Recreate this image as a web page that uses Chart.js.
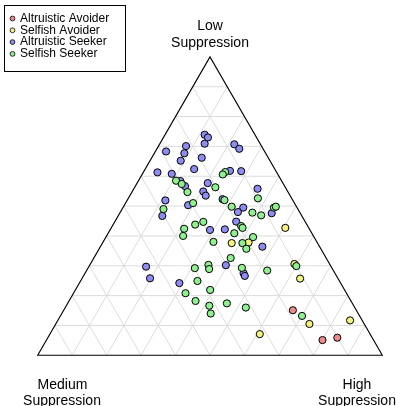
<!DOCTYPE html>
<html>
<head>
<meta charset="utf-8">
<script src="https://cdn.jsdelivr.net/npm/chart.js@4/dist/chart.umd.min.js"></script>
<style>
  html, body { margin: 0; padding: 0; background: #ffffff; }
  #wrap { width: 396px; height: 406px; }
</style>
</head>
<body>
<div id="wrap"><canvas id="tern" width="396" height="406"></canvas></div>
<script>
// Each entry is one respondent: [low, medium, high] suppression shares in percent.
const altruisticAvoider = [
  [15.1, 18.4, 66.5], [5.1, 14.8, 80.1], [5.9, 10.1, 84.0]
];
const selfishAvoider = [
  [42.7, 6.8, 50.5], [37.6, 24.9, 37.5], [37.8, 19.9, 42.3], [30.6, 10.2, 59.2],
  [25.7, 11.0, 63.3], [10.5, 15.9, 73.6], [11.7, 3.5, 84.8], [7.1, 32.0, 60.9]
];
const altruisticSeeker = [
  [73.9, 14.6, 11.5], [73.0, 14.1, 12.9], [70.9, 16.1, 13.0], [70.1, 21.9, 8.0],
  [68.3, 28.6, 3.1], [67.7, 23.6, 8.7], [65.2, 25.9, 8.9], [66.2, 19.3, 14.5],
  [70.7, 7.6, 21.7], [69.2, 6.9, 23.9], [61.3, 34.6, 4.1], [60.8, 30.7, 8.5],
  [62.4, 23.4, 14.2], [61.8, 13.3, 24.9], [61.7, 10.1, 28.2], [58.4, 29.4, 12.2],
  [56.7, 28.9, 14.4], [57.7, 21.8, 20.5], [54.9, 24.5, 20.6], [53.5, 24.5, 22.0],
  [55.8, 8.3, 35.9], [52.3, 20.2, 27.5], [51.9, 37.0, 11.1], [46.7, 40.5, 12.8],
  [50.3, 31.2, 18.5], [49.5, 15.6, 34.9], [48.0, 17.9, 34.1], [47.6, 8.3, 44.1],
  [44.8, 20.0, 35.2], [42.0, 29.0, 29.0], [42.2, 24.6, 33.2], [36.4, 16.6, 47.0],
  [29.7, 53.7, 16.6], [25.8, 54.5, 19.7], [24.2, 46.8, 29.0], [30.2, 30.3, 39.5],
  [27.5, 26.5, 46.0], [26.6, 26.6, 46.8]
];
const selfishSeeker = [
  [58.5, 30.6, 10.9], [57.4, 29.5, 13.1], [54.7, 29.2, 16.1], [56.3, 20.3, 23.4],
  [61.4, 14.9, 23.7], [60.6, 16.0, 23.4], [52.6, 9.8, 37.6], [52.0, 19.8, 28.2],
  [49.0, 39.0, 12.0], [51.0, 29.4, 19.6], [49.8, 18.8, 31.4], [47.8, 13.8, 38.4],
  [46.9, 11.7, 41.4], [49.5, 6.7, 43.8], [49.8, 6.0, 44.2], [43.3, 19.3, 37.4],
  [42.7, 19.2, 38.1], [42.4, 36.3, 21.3], [40.0, 37.8, 22.2], [43.8, 32.4, 23.8],
  [44.7, 29.6, 25.7], [40.9, 22.5, 36.6], [39.6, 17.7, 42.7], [38.0, 30.0, 32.0],
  [37.6, 21.8, 40.6], [35.7, 21.6, 42.7], [32.6, 27.7, 39.7], [29.2, 39.8, 31.0],
  [30.3, 35.3, 34.4], [28.9, 35.8, 35.3], [29.3, 26.1, 44.6], [28.4, 19.2, 52.4],
  [24.9, 41.2, 33.9], [21.9, 39.0, 39.1], [20.8, 46.7, 32.5], [18.2, 45.1, 36.7],
  [16.6, 41.9, 41.5], [14.0, 42.8, 43.2], [17.4, 36.4, 46.2], [16.0, 31.6, 52.4],
  [29.9, 10.0, 60.1], [13.2, 16.7, 70.1]
];

const groupNames = ['Altruistic Avoider', 'Selfish Avoider', 'Altruistic Seeker', 'Selfish Seeker'];
const groupColors = ['#f08a8a', '#f2f27e', '#8c8cf2', '#8ef08e'];
const cornerLabels = [['Low', 'Suppression'], ['Medium', 'Suppression'], ['High', 'Suppression']];
const gridSteps = 10;

// Ternary -> cartesian: Medium at (0,0), High at (1,0), Low at the apex.
const H3 = Math.sqrt(3) / 2;
function toXY(low, med, high) {
  const s = low + med + high;
  const l = low / s, h = high / s;
  return { x: h + l / 2, y: l * H3 };
}
const toPoints = arr => arr.map(r => toXY(r[0], r[1], r[2]));

// Canvas geometry: the unit triangle spans 344.6 px, base at y=355.3, left corner at x=37.7
const unitPx = 344.6;
const xMin = -37.7 / unitPx, xMax = (396 - 37.7) / unitPx;
const yMin = -(406 - 355.3) / unitPx, yMax = 355.3 / unitPx;

const ternaryFrame = {
  id: 'ternaryFrame',
  beforeDatasetsDraw(chart) {
    const { ctx, scales: { x, y } } = chart;
    const P = (l, m, h) => { const p = toXY(l, m, h); return [x.getPixelForValue(p.x), y.getPixelForValue(p.y)]; };
    ctx.save();
    ctx.strokeStyle = '#dcdcdc';
    ctx.lineWidth = 1;
    for (let i = 1; i < gridSteps; i++) {
      const f = i / gridSteps;
      const segs = [
        [P(f, 1 - f, 0), P(f, 0, 1 - f)],
        [P(0, 1 - f, f), P(1 - f, 0, f)],
        [P(0, f, 1 - f), P(1 - f, f, 0)]
      ];
      segs.forEach(([a, b]) => { ctx.beginPath(); ctx.moveTo(a[0], a[1]); ctx.lineTo(b[0], b[1]); ctx.stroke(); });
    }
    ctx.strokeStyle = '#000000';
    ctx.lineWidth = 1.1;
    const A = P(1, 0, 0), B = P(0, 1, 0), C = P(0, 0, 1);
    ctx.beginPath();
    ctx.moveTo(A[0], A[1]); ctx.lineTo(B[0], B[1]); ctx.lineTo(C[0], C[1]); ctx.closePath();
    ctx.stroke();
    ctx.restore();
  },
  afterDraw(chart) {
    const { ctx } = chart;
    ctx.save();
    ctx.fillStyle = '#000000';
    ctx.textAlign = 'center';
    ctx.textBaseline = 'middle';
    ctx.font = '14px "Liberation Sans", Arial, sans-serif';
    ctx.fillText(cornerLabels[0][0], 210, 26);
    ctx.fillText(cornerLabels[0][1], 210, 43);
    ctx.fillText(cornerLabels[1][0], 62.5, 385);
    ctx.fillText(cornerLabels[1][1], 62, 401.5);
    ctx.fillText(cornerLabels[2][0], 357, 385);
    ctx.fillText(cornerLabels[2][1], 357, 401.5);

    // legend box
    ctx.strokeStyle = '#000000';
    ctx.lineWidth = 1;
    ctx.strokeRect(4.5, 5.5, 121, 66);
    ctx.font = '12px "Liberation Sans", Arial, sans-serif';
    ctx.textAlign = 'left';
    groupNames.forEach((name, i) => {
      const yy = 18.5 + i * 11.8;
      ctx.beginPath();
      ctx.arc(12.5, yy, 2.4, 0, Math.PI * 2);
      ctx.fillStyle = groupColors[i];
      ctx.fill();
      ctx.lineWidth = 0.8;
      ctx.stroke();
      ctx.fillStyle = '#000000';
      ctx.fillText(name, 20, yy);
    });
    ctx.restore();
  }
};

const seriesData = [altruisticAvoider, selfishAvoider, altruisticSeeker, selfishSeeker];
new Chart(document.getElementById('tern'), {
  type: 'scatter',
  data: {
    datasets: seriesData.map((arr, i) => ({
      label: groupNames[i],
      data: toPoints(arr),
      backgroundColor: groupColors[i],
      borderColor: '#000000',
      borderWidth: 1,
      pointRadius: 3.6,
      order: seriesData.length - i
    }))
  },
  options: {
    responsive: false,
    animation: false,
    devicePixelRatio: 1,
    layout: { padding: 0, autoPadding: false },
    plugins: { legend: { display: false }, tooltip: { enabled: false } },
    scales: {
      x: { type: 'linear', display: false, min: xMin, max: xMax },
      y: { type: 'linear', display: false, min: yMin, max: yMax }
    }
  },
  plugins: [ternaryFrame]
});
</script>
</body>
</html>
